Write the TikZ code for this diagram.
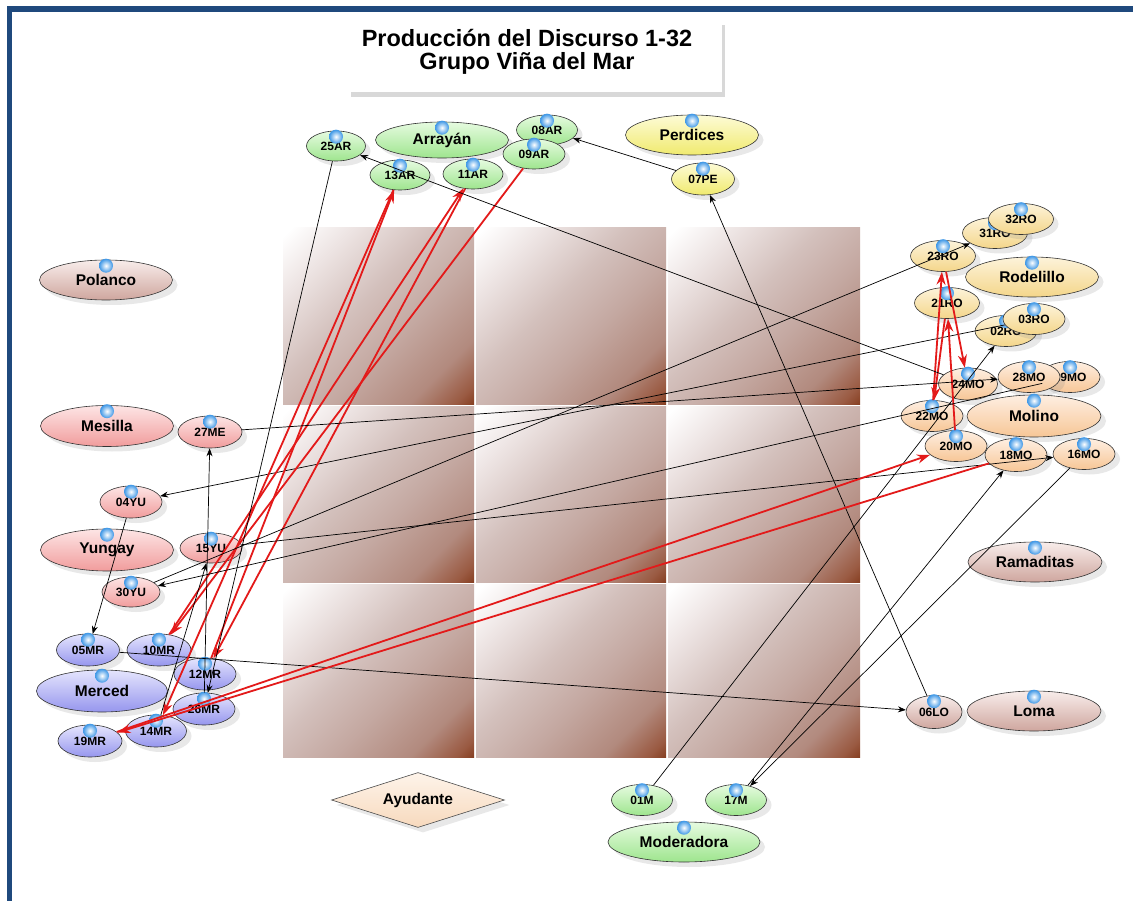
\documentclass[tikz,border=0pt]{standalone}
\usepackage{fontspec}
\setmainfont{Liberation Sans}
\usetikzlibrary{shapes.geometric,shadows,arrows.meta}
\definecolor{frameblue}{HTML}{1F497D}
\definecolor{sq0}{HTML}{7E3414}
\definecolor{sq1}{HTML}{9A5A42}
\definecolor{sq2}{HTML}{B28A7E}
\definecolor{sq3}{HTML}{C4A8A1}
\definecolor{sq4}{HTML}{D3C0BC}
\definecolor{sq5}{HTML}{EDE4E3}
\definecolor{ballc}{HTML}{3C96E6}
\definecolor{myred}{HTML}{E31A1A}
\definecolor{grnT}{HTML}{E6FBE0}\definecolor{grnB}{HTML}{9EE58E}
\definecolor{yelT}{HTML}{FDFBD6}\definecolor{yelB}{HTML}{F0EA6E}
\definecolor{roT}{HTML}{FDF3DA}\definecolor{roB}{HTML}{F4D68A}
\definecolor{moT}{HTML}{FEEFE2}\definecolor{moB}{HTML}{F7C696}
\definecolor{brT}{HTML}{F8EDEB}\definecolor{brB}{HTML}{CFA69E}
\definecolor{rdT}{HTML}{FDE5E5}\definecolor{rdB}{HTML}{F19C9C}
\definecolor{blT}{HTML}{E5E5FD}\definecolor{blB}{HTML}{9696EE}
\definecolor{ayT}{HTML}{FEF4EA}\definecolor{ayB}{HTML}{F7D9BD}
\pgfdeclareverticalshading{sqshade}{100bp}{color(0bp)=(sq0); color(13bp)=(sq0); color(18bp)=(sq1); color(27bp)=(sq2); color(42bp)=(sq3); color(56bp)=(sq4); color(72bp)=(sq5); color(84bp)=(white); color(100bp)=(white)}
\tikzset{
  basenode/.style={ellipse, draw=black!80, line width=0.6pt, inner sep=0pt, text=black,
    drop shadow={opacity=0.18, shadow xshift=5pt, shadow yshift=-5pt}},
  sm/.style={basenode, minimum width=62pt, minimum height=31pt, font=\bfseries\fontsize{12}{12}\selectfont},
  bg/.style={basenode, minimum width=133pt, minimum height=40pt, font=\bfseries\fontsize{15.5}{16}\selectfont},
  gr/.style={top color=grnT, bottom color=grnB},
  ye/.style={top color=yelT, bottom color=yelB},
  ro/.style={top color=roT, bottom color=roB},
  mo/.style={top color=moT, bottom color=moB},
  br/.style={top color=brT, bottom color=brB},
  rs/.style={top color=rdT, bottom color=rdB},
  bl/.style={top color=blT, bottom color=blB},
  blk/.style={draw=black, line width=0.7pt, -{Stealth[length=8pt,width=6pt]}},
  rdl/.style={draw=myred, line width=1.8pt, -{Stealth[length=13pt,width=9pt]}},
  titletext/.style={anchor=base, font=\bfseries\fontsize{23.5}{24}\selectfont},
  ballst/.style={inner color=white, outer color=ballc},
}
\newcommand\mknode[5]{\node[#2] (#1) at (#3,#4) {#5};
  \shade[ballst] ([yshift=-6pt]#1.north) circle (7pt);}
\begin{document}
\begin{tikzpicture}[x=1pt,y=-1pt]
\useasboundingbox (0,0) rectangle (1133,901);
\fill[white] (0,0) rectangle (1133,901);
% frame
\fill[frameblue] (7,6) rectangle (1133,12);
\fill[frameblue] (7,6) rectangle (12,901);
% grid of squares
\foreach \xa/\xb in {283/474,476/666,668/860}
  \foreach \ya/\yb in {228/404,406/582,584/757}
    \shade[shading=sqshade, shading angle=45] (\xa,\ya) rectangle (\xb,\yb);
% title
\node[fill=white, minimum width=374pt, minimum height=72pt, inner sep=0pt,
  drop shadow={opacity=0.3, shadow xshift=3pt, shadow yshift=-5pt}] (tbox) at (535,56) {};
\node[titletext] (title1) at (527,47) {Producción del Discurso 1-32};
\node[titletext] (title2) at (527,70) {Grupo Viña del Mar};
% Arrayan group
\mknode{n25AR}{sm,gr,minimum width=59pt,minimum height=30pt}{336}{146}{25AR}
\mknode{arr}{bg,gr,minimum height=36pt}{442}{140}{Arrayán}
\mknode{n08AR}{sm,gr,minimum width=61pt,minimum height=30pt}{547}{130}{08AR}
\mknode{n09AR}{sm,gr,minimum height=30pt}{534}{154}{09AR}
\mknode{n13AR}{sm,gr,minimum width=60pt,minimum height=30pt}{400}{175}{13AR}
\mknode{n11AR}{sm,gr,minimum width=60pt,minimum height=30pt}{473}{174}{11AR}
% Perdices
\mknode{per}{bg,ye}{692}{135}{Perdices}
\mknode{n07PE}{sm,ye,minimum width=63pt,minimum height=32pt}{703}{179}{07PE}
% Rodelillo
\mknode{n31RO}{sm,ro,minimum width=65pt}{995}{233}{31RO}
\mknode{n32RO}{sm,ro,minimum width=65pt}{1021}{219}{32RO}
\mknode{n23RO}{sm,ro,minimum width=65pt}{943}{256}{23RO}
\mknode{rod}{bg,ro}{1032}{277}{Rodelillo}
\mknode{n21RO}{sm,ro,minimum width=65pt}{947}{303}{21RO}
\mknode{n02RO}{sm,ro}{1006}{331}{02RO}
\mknode{n03RO}{sm,ro}{1034}{319}{03RO}
% Molino
\mknode{n29MO}{sm,mo,minimum width=60pt}{1070}{377}{29MO}
\mknode{n24MO}{sm,mo,minimum width=59pt,minimum height=32pt}{968}{384}{24MO}
\mknode{n28MO}{sm,mo}{1029}{377}{28MO}
\mknode{mol}{bg,mo,minimum width=134pt,minimum height=42pt}{1034}{416}{Molino}
\mknode{n22MO}{sm,mo}{932}{416}{22MO}
\mknode{n20MO}{sm,mo}{956}{446}{20MO}
\mknode{n18MO}{sm,mo,minimum height=33pt}{1016}{455}{18MO}
\mknode{n16MO}{sm,mo}{1084}{454}{16MO}
% Ramaditas, Loma
\mknode{ram}{bg,br,minimum width=134pt}{1035}{562}{Ramaditas}
\mknode{n06LO}{sm,br,minimum width=56pt,minimum height=33pt}{934}{712}{06LO}
\mknode{loma}{bg,br,minimum width=134pt}{1034}{711}{Loma}
% left side
\mknode{pol}{bg,br}{106}{280}{Polanco}
\mknode{mes}{bg,rs,minimum height=41pt}{107}{426}{Mesilla}
\mknode{n27ME}{sm,rs,minimum width=64pt,minimum height=32pt}{210}{432}{27ME}
\mknode{n04YU}{sm,rs,minimum height=32pt}{131}{502}{04YU}
\mknode{yun}{bg,rs,minimum height=42pt}{107}{550}{Yungay}
\mknode{n15YU}{sm,rs,minimum height=30pt}{211}{548}{15YU}
\mknode{n30YU}{sm,rs,minimum width=58pt,minimum height=30pt}{131}{592}{30YU}
% Merced group
\mknode{n05MR}{sm,bl,minimum width=63pt,minimum height=32pt}{88}{650}{05MR}
\mknode{n10MR}{sm,bl,minimum width=64pt,minimum height=32pt}{159}{650}{10MR}
\mknode{n12MR}{sm,bl,minimum height=32pt}{205}{674}{12MR}
\mknode{mer}{bg,bl,minimum width=131pt,minimum height=42pt}{102}{691}{Merced}
\mknode{n26MR}{sm,bl,minimum height=32pt}{204}{709}{26MR}
\mknode{n19MR}{sm,bl,minimum width=64pt,minimum height=32pt}{90}{741}{19MR}
\mknode{n14MR}{sm,bl,minimum width=61pt,minimum height=32pt}{156}{731}{14MR}
% bottom
\node[diamond, aspect=3, minimum width=173pt, minimum height=55pt, inner sep=0pt,
  draw=black!70, line width=0.6pt, top color=ayT, bottom color=ayB,
  drop shadow={opacity=0.18, shadow xshift=5pt, shadow yshift=-5pt},
  font=\bfseries\fontsize{15.5}{16}\selectfont] (ayu) at (418,800) {Ayudante};
\mknode{n01M}{sm,gr,minimum width=61pt}{642}{800}{01M}
\mknode{n17M}{sm,gr,minimum width=61pt}{736}{800}{17M}
\mknode{mod}{bg,gr,minimum width=152pt}{684}{842}{Moderadora}
% connectors
\draw[blk] (n01M) -- (n02RO);
\draw[blk] (n03RO) -- (n04YU);
\draw[blk] (n04YU) -- (n05MR);
\draw[blk] (n05MR) -- (n06LO);
\draw[blk] (n06LO) -- (n07PE);
\draw[blk] (n07PE) -- (n08AR);
\draw[rdl] (n09AR) -- (n10MR);
\draw[rdl] (n10MR) -- (n11AR);
\draw[rdl] (n11AR) -- (n12MR);
\draw[rdl] (n12MR) -- (n13AR);
\draw[rdl] (n13AR) -- (n14MR);
\draw[blk] (n14MR) -- (n15YU);
\draw[blk] (n15YU) -- (n16MO);
\draw[blk] (n16MO) -- (n17M);
\draw[blk] (n17M) -- (n18MO);
\draw[rdl] (n18MO) -- (n19MR);
\draw[rdl] (n19MR) -- (n20MO);
\draw[rdl] (n20MO) -- (n21RO);
\draw[rdl] (n21RO) -- (n22MO);
\draw[rdl] (n22MO) -- (n23RO);
\draw[rdl] (n23RO) -- (n24MO);
\draw[blk] (n24MO) -- (n25AR);
\draw[blk] (n25AR) -- (n26MR);
\draw[blk] (n26MR) -- (n27ME);
\draw[blk] (n27ME) -- (n28MO);
\draw[blk] (n29MO) -- (n30YU);
\draw[blk] (n30YU) -- (n31RO);
\end{tikzpicture}
\end{document}
